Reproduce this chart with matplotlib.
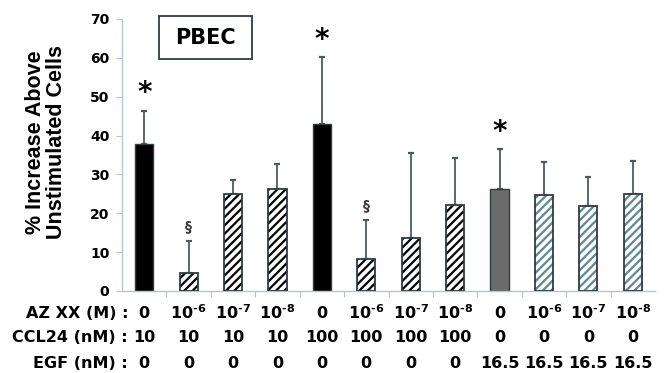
import numpy as np
import matplotlib
matplotlib.use('Agg')
import matplotlib.pyplot as plt
from matplotlib.transforms import blended_transform_factory
from matplotlib.patches import Rectangle

plt.rcParams['font.family'] = ['DejaVu Sans']
plt.rcParams['font.weight'] = 'bold'
plt.rcParams['mathtext.fontset'] = 'custom'
plt.rcParams['mathtext.rm'] = 'DejaVu Sans:bold'
plt.rcParams['mathtext.bf'] = 'DejaVu Sans:bold'
plt.rcParams['hatch.linewidth'] = 1.6

# ---------------------------
# data
# ---------------------------
means = [37.8, 4.7, 25.0, 26.3, 43.1, 8.2, 13.7, 22.2, 26.2, 24.7, 22.0, 25.0]
err_top = [46.4, 12.9, 28.5, 32.8, 60.1, 18.3, 35.4, 34.1, 36.5, 33.1, 29.3, 33.5]
az_labels = ['0', '10$^{\u20106}$', '10$^{\u20107}$', '10$^{\u20108}$'] * 3
ccl24_labels = ['10'] * 4 + ['100'] * 4 + ['0'] * 4
egf_labels = ['0'] * 8 + ['16.5'] * 4
row_names = ['AZ XX (M) :', 'CCL24 (nM) :', 'EGF (nM) :']
stars = [0, 4, 8]
sections = [1, 5]

# styles per bar: (face, hatch, hatchcolor)
styles = [('black', None, None)] + [('white', '////', 'black')] * 3 \
       + [('black', None, None)] + [('white', '////', 'black')] * 3 \
       + [('#6b6b6b', None, None)] + [('white', '////', '#5f8796')] * 3

edge = '#2f3c40'
err_col = '#4c5a5f'
axis_col = '#b8c4cc'

fig = plt.figure(figsize=(6.69, 3.73), dpi=100)
ax = fig.add_axes([122/669, 1 - 291/373, 533/669, 272/373])

x = np.arange(len(means))
w = 0.41
for i, (m, st) in enumerate(zip(means, styles)):
    face, hatch, hcol = st
    if hatch:
        ax.bar(x[i], m, w, color=face, edgecolor=hcol, hatch=hatch, linewidth=0, zorder=2)
        ax.bar(x[i], m, w, fill=False, edgecolor=edge, linewidth=1.3, zorder=3)
    else:
        ax.bar(x[i], m, w, color=face, edgecolor=edge, linewidth=1.0, zorder=2)

yerr = np.array(err_top) - np.array(means)
ax.errorbar(x, means, yerr=[np.zeros_like(yerr), yerr], fmt='none',
            ecolor=err_col, elinewidth=1.3, capsize=2.5, capthick=1.6, zorder=1)

for i in stars:
    ax.text(x[i], err_top[i] + 4.5, '*', ha='center', va='center', fontsize=20,
            fontweight='bold', color='black')
for i in sections:
    ax.text(x[i], err_top[i] + 3.8, '§', ha='center', va='center', fontsize=10,
            fontweight='bold', color='#3a3a3a')

ax.set_xlim(-0.5, len(means) - 0.5)
ax.set_ylim(0, 70)
ax.set_yticks(range(0, 71, 10))
ax.set_xticks(np.arange(0.5, len(means) - 0.5, 1))
ax.set_xticklabels([])
ax.tick_params(axis='y', labelsize=10, length=4, color=axis_col, pad=5)
ax.tick_params(axis='x', length=4, color=axis_col)
for lab in ax.get_yticklabels():
    lab.set_fontweight('bold')
for s in ['top', 'right']:
    ax.spines[s].set_visible(False)
for s in ['left', 'bottom']:
    ax.spines[s].set_color(axis_col)
    ax.spines[s].set_linewidth(1.0)

fig.text(46/669, 1 - 142/373, '% Increase Above\nUnstimulated Cells', rotation=90,
         ha='center', va='center', fontsize=15.5, fontweight='bold', linespacing=1.05,
         family=['Liberation Sans Narrow', 'Liberation Sans'])

# PBEC box
fig.patches.append(Rectangle((159/669, 1 - 59/373), 93/669, 43/373, transform=fig.transFigure,
                             fill=False, edgecolor=edge, linewidth=1.3))
fig.text(205.5/669, 1 - 38/373, 'PBEC', ha='center', va='center', fontsize=15, fontweight='bold')

# table beneath bars
trans = blended_transform_factory(ax.transData, fig.transFigure)
row_y = [1 - 313/373, 1 - 338/373, 1 - 363/373]
for ry, name, labs in zip(row_y, row_names, [az_labels, ccl24_labels, egf_labels]):
    fig.text(128/669, ry, name, ha='right', va='center', fontsize=11.5, fontweight='bold')
    for i, lab in enumerate(labs):
        ax.text(x[i], ry, lab, transform=trans, ha='center', va='center',
                fontsize=11.5, fontweight='bold', clip_on=False)

fig.savefig('out.png', dpi=100)
